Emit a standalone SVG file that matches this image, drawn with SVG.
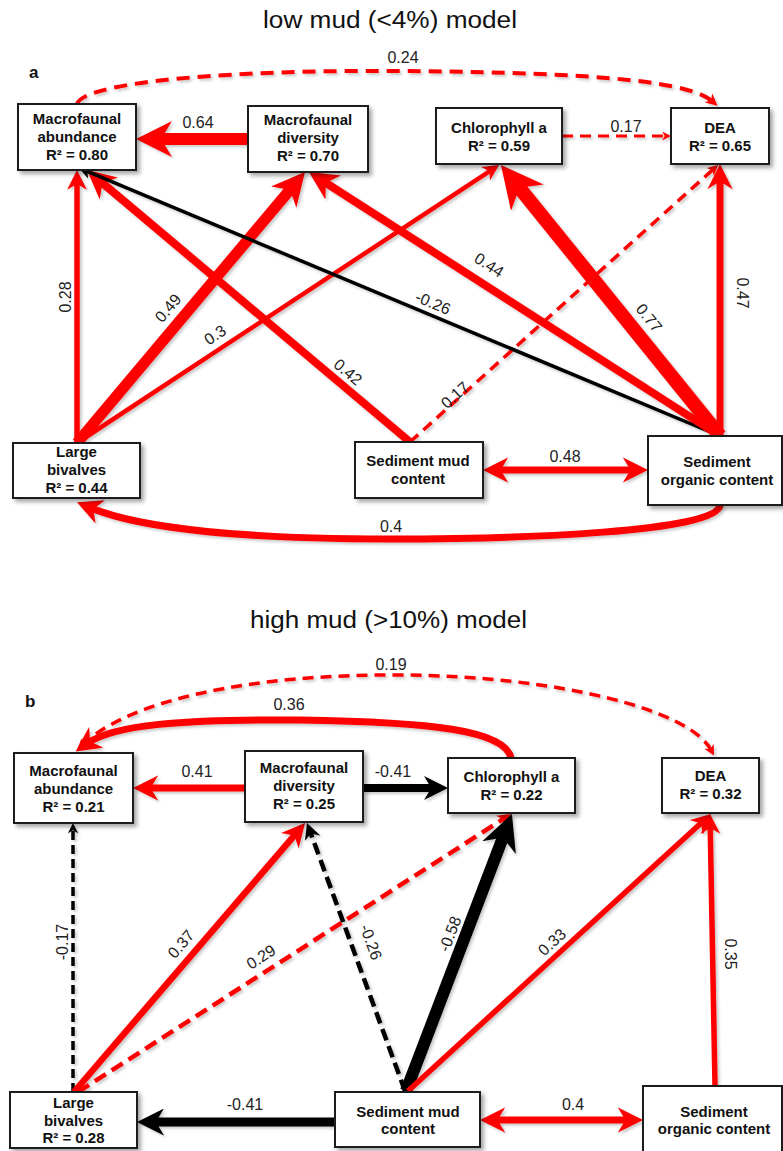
<svg xmlns="http://www.w3.org/2000/svg" width="783" height="1151" viewBox="0 0 783 1151">
<defs>
<style>
.box{fill:#fff;stroke:#1a1a1a;stroke-width:2;filter:url(#bsh)}
.nt{font-family:"Liberation Sans",Arial,sans-serif;font-weight:bold;font-size:15px;text-anchor:middle;fill:#111}
.lb{font-family:"Liberation Sans",Arial,sans-serif;font-size:16px;text-anchor:middle;fill:#222}
.ttl{font-family:"Liberation Sans",Arial,sans-serif;font-size:23.5px;fill:#111}
.pl{font-family:"Liberation Sans",Arial,sans-serif;font-size:17px;font-weight:bold;fill:#111}
.r{stroke:#f00;fill:none}
.k{stroke:#000;fill:none}
</style>
<filter id="bsh" x="-10%" y="-10%" width="130%" height="140%"><feDropShadow dx="3" dy="3" stdDeviation="2" flood-color="#000" flood-opacity="0.35"/></filter>
<filter id="lsh" x="-5%" y="-5%" width="115%" height="115%"><feDropShadow dx="2" dy="2" stdDeviation="1.5" flood-color="#000" flood-opacity="0.22"/></filter>
<marker id="rT" viewBox="0 0 10 10" refX="4" refY="5" markerWidth="3" markerHeight="3" orient="auto-start-reverse"><path d="M0,0L10,5L0,10L3,5Z" fill="#f00"/></marker>
<marker id="rM" viewBox="0 0 10 10" refX="4" refY="5" markerWidth="3.6" markerHeight="3.6" orient="auto-start-reverse"><path d="M0,0L10,5L0,10L3,5Z" fill="#f00"/></marker>
<marker id="kT" viewBox="0 0 10 10" refX="4" refY="5" markerWidth="3" markerHeight="3" orient="auto-start-reverse"><path d="M0,0L10,5L0,10L3,5Z" fill="#000"/></marker>
<marker id="kM" viewBox="0 0 10 10" refX="4" refY="5" markerWidth="3.6" markerHeight="3.6" orient="auto-start-reverse"><path d="M0,0L10,5L0,10L3,5Z" fill="#000"/></marker>
</defs>
<rect width="783" height="1151" fill="#fff"/>

<text class="ttl" x="263" y="28" textLength="254" lengthAdjust="spacingAndGlyphs">low mud (&lt;4%) model</text>
<text class="pl" x="29" y="78">a</text>
<text class="ttl" x="250" y="628" textLength="277" lengthAdjust="spacingAndGlyphs">high mud (&gt;10%) model</text>
<text class="pl" x="25" y="707">b</text>

<g id="connectors" filter="url(#lsh)">
  <!-- panel a -->
  <path class="r" stroke-width="4" stroke-dasharray="13 8" d="M77,104 C85,80 250,70 390,71 C560,72 685,78 712,101" marker-end="url(#rT)"/>
  <line class="r" stroke-width="12" x1="248" y1="139" x2="157.6" y2="139" marker-end="url(#rT)"/>
  <line class="r" stroke-width="3" stroke-dasharray="11 7" x1="562" y1="136" x2="665.6" y2="136" marker-end="url(#rT)"/>
  <line class="r" stroke-width="5.5" x1="77" y1="443" x2="77" y2="181.9" marker-end="url(#rM)"/>
  <line class="r" stroke-width="11" x1="77" y1="443" x2="292.2" y2="187.1" marker-end="url(#rT)"/>
  <line class="r" stroke-width="4.5" x1="77" y1="443" x2="490.9" y2="170.3" marker-end="url(#rM)"/>
  <line class="r" stroke-width="8" x1="410" y1="442" x2="100.2" y2="181.1" marker-end="url(#rM)"/>
  <line class="r" stroke-width="3.5" stroke-dasharray="11 7" x1="410" y1="442" x2="713.3" y2="169.2" marker-end="url(#rT)"/>
  <line class="k" stroke-width="3.5" x1="720" y1="436" x2="86" y2="170.9" marker-end="url(#kM)"/>
  <line class="r" stroke-width="8" x1="720" y1="436" x2="323.5" y2="181.3" marker-end="url(#rM)"/>
  <line class="r" stroke-width="14" x1="720" y1="436" x2="516.8" y2="184.6" marker-end="url(#rT)"/>
  <line class="r" stroke-width="7" x1="720" y1="436" x2="720" y2="179.1" marker-end="url(#rM)"/>
  <line class="r" stroke-width="7" x1="498.1" y1="470" x2="632.9" y2="470" marker-start="url(#rM)" marker-end="url(#rM)"/>
  <path class="r" stroke-width="7" d="M720,505 C718,532 520,539 390,539 C250,539 142,529 91,508" marker-end="url(#rM)"/>

  <!-- panel b -->
  <path class="r" stroke-width="3.5" stroke-dasharray="11 7" d="M711,750 C690,710 560,676 400,675 C250,674 130,700 82,745" marker-start="url(#rT)" marker-end="url(#rT)"/>
  <path class="r" stroke-width="7" d="M511,758 C505,730 430,722 300,720 C180,719 114,725 88,743" marker-end="url(#rM)"/>
  <line class="r" stroke-width="7" x1="245" y1="788" x2="148.1" y2="788" marker-end="url(#rM)"/>
  <line class="k" stroke-width="8" x1="363" y1="788" x2="433.6" y2="788" marker-end="url(#kT)"/>
  <line class="k" stroke-width="3.5" stroke-dasharray="9 5" x1="73" y1="1092" x2="73" y2="829.3" marker-end="url(#kT)"/>
  <line class="r" stroke-width="6.5" x1="74" y1="1092" x2="295.9" y2="833.6" marker-end="url(#rM)"/>
  <line class="r" stroke-width="4.5" stroke-dasharray="13 7" x1="78" y1="1092" x2="504.2" y2="818.4" marker-end="url(#rT)"/>
  <line class="k" stroke-width="4.5" stroke-dasharray="12 6" x1="405" y1="1091" x2="310.3" y2="832.1" marker-end="url(#kM)"/>
  <line class="k" stroke-width="12" x1="406" y1="1091" x2="504.2" y2="834.2" marker-end="url(#kT)"/>
  <line class="r" stroke-width="5.5" x1="408" y1="1091" x2="702.2" y2="822" marker-end="url(#rM)"/>
  <line class="r" stroke-width="5.5" x1="715" y1="1086" x2="710.2" y2="825.9" marker-end="url(#rM)"/>
  <line class="r" stroke-width="7" x1="495.1" y1="1120" x2="627.9" y2="1120" marker-start="url(#rM)" marker-end="url(#rM)"/>
  <line class="k" stroke-width="9" x1="335" y1="1122" x2="153.2" y2="1122" marker-end="url(#kT)"/>
</g>

<g id="edge-labels">
  <text class="lb" x="403" y="63">0.24</text>
  <text class="lb" x="198" y="128">0.64</text>
  <text class="lb" x="626" y="132">0.17</text>
  <text class="lb" transform="translate(65,297) rotate(-90)" y="5.5">0.28</text>
  <text class="lb" transform="translate(168,308) rotate(-49.7)" y="5.5">0.49</text>
  <text class="lb" transform="translate(215,335) rotate(-33.4)" y="5.5">0.3</text>
  <text class="lb" transform="translate(348,372) rotate(39.8)" y="5.5">0.42</text>
  <text class="lb" transform="translate(455,395) rotate(-41.9)" y="5.5">0.17</text>
  <text class="lb" transform="translate(433,303) rotate(22.7)" y="5.5">-0.26</text>
  <text class="lb" transform="translate(489,265) rotate(32.6)" y="5.5">0.44</text>
  <text class="lb" transform="translate(649,318) rotate(51)" y="5.5">0.77</text>
  <text class="lb" transform="translate(742,293) rotate(90)" y="5.5">0.47</text>
  <text class="lb" x="565" y="462">0.48</text>
  <text class="lb" x="391" y="532">0.4</text>

  <text class="lb" x="391" y="670">0.19</text>
  <text class="lb" x="289" y="710">0.36</text>
  <text class="lb" x="197" y="777">0.41</text>
  <text class="lb" x="393" y="777">-0.41</text>
  <text class="lb" transform="translate(62,942) rotate(-90)" y="5.5">-0.17</text>
  <text class="lb" transform="translate(181,944) rotate(-49.3)" y="5.5">0.37</text>
  <text class="lb" transform="translate(261,957) rotate(-32.8)" y="5.5">0.29</text>
  <text class="lb" transform="translate(371,942) rotate(70)" y="5.5">-0.26</text>
  <text class="lb" transform="translate(450,934) rotate(-69)" y="5.5">-0.58</text>
  <text class="lb" transform="translate(552,942) rotate(-43)" y="5.5">0.33</text>
  <text class="lb" transform="translate(730,954) rotate(90)" y="5.5">0.35</text>
  <text class="lb" x="573" y="1110">0.4</text>
  <text class="lb" x="245" y="1110">-0.41</text>
</g>

<!-- panel a nodes -->
<g id="a-macrofaunal-abundance">
  <rect class="box" x="18" y="104" width="118" height="66"/>
  <text class="nt"><tspan x="77" y="124">Macrofaunal</tspan><tspan x="77" y="142">abundance</tspan><tspan x="77" y="160">R² = 0.80</tspan></text>
</g>
<g id="a-macrofaunal-diversity">
  <rect class="box" x="248" y="106" width="120" height="66"/>
  <text class="nt"><tspan x="308" y="125">Macrofaunal</tspan><tspan x="308" y="143">diversity</tspan><tspan x="308" y="161">R² = 0.70</tspan></text>
</g>
<g id="a-chlorophyll-a">
  <rect class="box" x="436" y="108" width="126" height="56"/>
  <text class="nt"><tspan x="499" y="133">Chlorophyll a</tspan><tspan x="499" y="151">R² = 0.59</tspan></text>
</g>
<g id="a-dea">
  <rect class="box" x="671" y="108" width="98" height="56"/>
  <text class="nt"><tspan x="720" y="133">DEA</tspan><tspan x="720" y="151">R² = 0.65</tspan></text>
</g>
<g id="a-large-bivalves">
  <rect class="box" x="13" y="443" width="127" height="55"/>
  <text class="nt"><tspan x="76.5" y="457">Large</tspan><tspan x="76.5" y="475">bivalves</tspan><tspan x="76.5" y="493">R² = 0.44</tspan></text>
</g>
<g id="a-sediment-mud">
  <rect class="box" x="355" y="442" width="128" height="56"/>
  <text class="nt"><tspan x="418" y="466">Sediment mud</tspan><tspan x="418" y="484">content</tspan></text>
</g>
<g id="a-sediment-organic">
  <rect class="box" x="648" y="436" width="134" height="69"/>
  <text class="nt"><tspan x="717" y="467">Sediment</tspan><tspan x="717" y="485">organic content</tspan></text>
</g>

<!-- panel b nodes -->
<g id="b-macrofaunal-abundance">
  <rect class="box" x="14" y="753" width="119" height="70"/>
  <text class="nt"><tspan x="73.5" y="776">Macrofaunal</tspan><tspan x="73.5" y="794">abundance</tspan><tspan x="73.5" y="812">R² = 0.21</tspan></text>
</g>
<g id="b-macrofaunal-diversity">
  <rect class="box" x="245" y="751" width="118" height="71"/>
  <text class="nt"><tspan x="304" y="773">Macrofaunal</tspan><tspan x="304" y="791">diversity</tspan><tspan x="304" y="809">R² = 0.25</tspan></text>
</g>
<g id="b-chlorophyll-a">
  <rect class="box" x="448" y="758" width="127" height="55"/>
  <text class="nt"><tspan x="511.5" y="782">Chlorophyll a</tspan><tspan x="511.5" y="800">R² = 0.22</tspan></text>
</g>
<g id="b-dea">
  <rect class="box" x="662" y="758" width="97" height="55"/>
  <text class="nt"><tspan x="710.5" y="781">DEA</tspan><tspan x="710.5" y="799">R² = 0.32</tspan></text>
</g>
<g id="b-large-bivalves">
  <rect class="box" x="10" y="1092" width="127" height="56"/>
  <text class="nt"><tspan x="73.5" y="1108">Large</tspan><tspan x="73.5" y="1126">bivalves</tspan><tspan x="73.5" y="1143">R² = 0.28</tspan></text>
</g>
<g id="b-sediment-mud">
  <rect class="box" x="335" y="1092" width="145" height="55"/>
  <text class="nt"><tspan x="408" y="1117">Sediment mud</tspan><tspan x="408" y="1134">content</tspan></text>
</g>
<g id="b-sediment-organic">
  <rect class="box" x="643" y="1086" width="139" height="72"/>
  <text class="nt"><tspan x="714" y="1117">Sediment</tspan><tspan x="714" y="1134">organic content</tspan></text>
</g>
</svg>
